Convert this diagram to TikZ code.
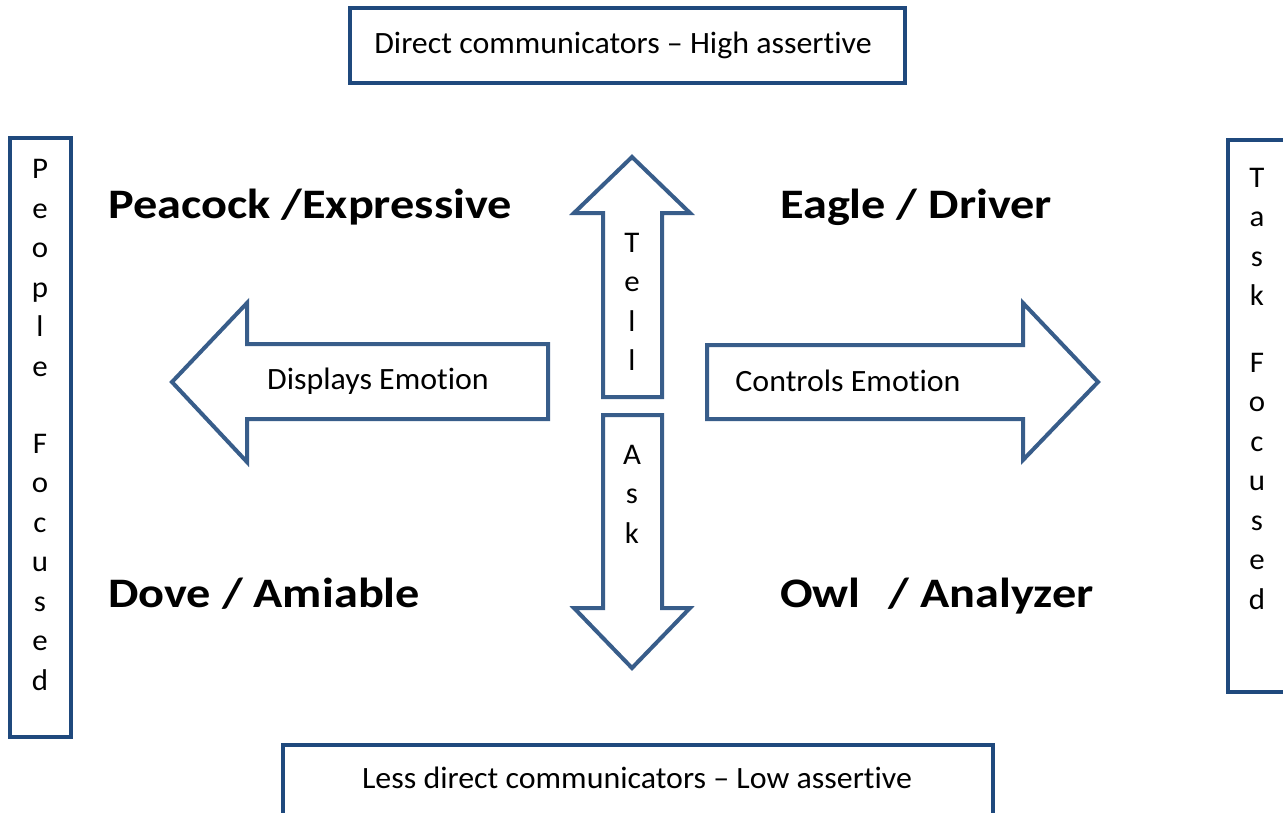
\documentclass[tikz,border=0pt]{standalone}
\usepackage{fontspec}
\setmainfont{Carlito}[Ligatures=NoCommon]
\newfontfamily\bodyfont{Carlito}[FakeStretch=1.03,Ligatures=NoCommon]
\newfontfamily\bigfont{Carlito}[FakeStretch=1.15,Ligatures=NoCommon]
\definecolor{boxblue}{RGB}{31,73,125}
\definecolor{arrowblue}{RGB}{56,93,138}
\begin{document}
\begin{tikzpicture}[x=1pt,y=-1pt,
  framebox/.style={draw=boxblue,line width=4pt,fill=white},
  bigarrow/.style={draw=arrowblue,line width=4pt,line join=miter,fill=white},
  txt/.style={inner sep=0pt,font=\bodyfont\fontsize{31}{36}\selectfont},
  vtxt/.style={inner sep=0pt,align=center,font=\bodyfont\fontsize{30}{39.5}\selectfont},
  big/.style={inner sep=0pt,anchor=base west,font=\bigfont\fontsize{42}{48}\selectfont\bfseries}]
\useasboundingbox (0,0) rectangle (1283,812);
\clip (0,0) rectangle (1283,812);
\fill[white] (0,0) rectangle (1283,812);
% boxes
\draw[framebox] (350,8) rectangle (905,83);
\node[txt,anchor=base] (top) at (623,53) {Direct communicators – High assertive};
\draw[framebox] (283,745) rectangle (993,840);
\node[txt,anchor=base] (bot) at (637,788) {Less direct communicators – Low assertive};
\draw[framebox] (10,138) rectangle (71,737);
\node[vtxt] (people) at (40,268) {P\\e\\o\\p\\l\\e};
\node[vtxt] (pfoc) at (40,562) {F\\o\\c\\u\\s\\e\\d};
\draw[framebox] (1228,140) rectangle (1310,692);
\node[vtxt] (task) at (1257,237) {T\\a\\s\\k};
\node[vtxt] (tfoc) at (1257,481) {F\\o\\c\\u\\s\\e\\d};
% arrows
\draw[bigarrow] (172,382) -- (247,303) -- (247,344) -- (548,344) -- (548,419) -- (247,419) -- (247,462) -- cycle;
\node[txt] (disp) at (378,381) {Displays Emotion};
\draw[bigarrow] (707,345) -- (1023,345) -- (1023,303) -- (1098,382) -- (1023,460) -- (1023,419) -- (707,419) -- cycle;
\node[txt] (ctrl) at (848,381) {Controls Emotion};
\draw[bigarrow] (632,157) -- (690,213) -- (662,213) -- (662,397) -- (603,397) -- (603,213) -- (574,213) -- cycle;
\node[vtxt] (tell) at (632,302) {T\\e\\l\\l};
\draw[bigarrow] (603,415) -- (662,415) -- (662,608) -- (690,608) -- (632,668) -- (574,608) -- (603,608) -- cycle;
\node[vtxt] (ask) at (632,494) {A\\s\\k};
% labels
\node[big] (peacock) at (108,218) {Peacock /Expressive};
\node[big] (eagle) at (780,218) {Eagle / Driver};
\node[big] (dove) at (108,607) {Dove / Amiable};
\node[big] (owl) at (780,607) {Owl~~\hspace{6pt}/ Analyzer};
\end{tikzpicture}
\end{document}
